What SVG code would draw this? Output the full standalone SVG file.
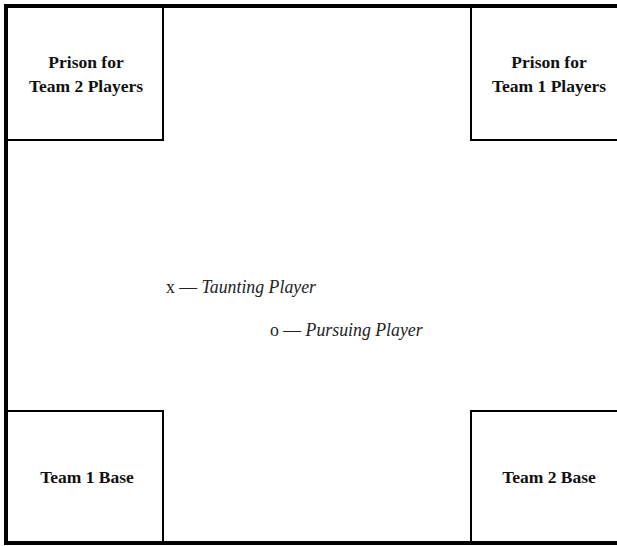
<svg xmlns="http://www.w3.org/2000/svg" width="617" height="546" viewBox="0 0 617 546">
<style>
.outer{fill:none;stroke:#000;stroke-width:4}
.box{fill:none;stroke:#000;stroke-width:2}
.lbl{font-family:'Liberation Serif','DejaVu Serif',serif;font-weight:bold;font-size:17.5px;fill:#111;text-anchor:middle}
.leg{font-family:'Liberation Serif','DejaVu Serif',serif;font-size:17.8px;fill:#222}
</style>
<rect width="617" height="546" fill="#fff"/>
<g id="field">
<path class="outer" d="M620 6 H6 V543 H620"/>
</g>
<g id="prison2">
<path class="box" d="M6 140 H163 V6"/>
<text class="lbl" x="86" y="68">Prison for</text>
<text class="lbl" x="86" y="92">Team 2 Players</text>
</g>
<g id="prison1">
<path class="box" d="M471 6 V140 H620"/>
<text class="lbl" x="549" y="68">Prison for</text>
<text class="lbl" x="549" y="92">Team 1 Players</text>
</g>
<g id="base1">
<path class="box" d="M6 411 H163 V543"/>
<text class="lbl" x="87" y="483">Team 1 Base</text>
</g>
<g id="base2">
<path class="box" d="M620 411 H471 V543"/>
<text class="lbl" x="549" y="483">Team 2 Base</text>
</g>
<g id="legend">
<text class="leg" x="166" y="293">x — <tspan font-style="italic">Taunting Player</tspan></text>
<text class="leg" x="270" y="336">o — <tspan font-style="italic">Pursuing Player</tspan></text>
</g>
</svg>
